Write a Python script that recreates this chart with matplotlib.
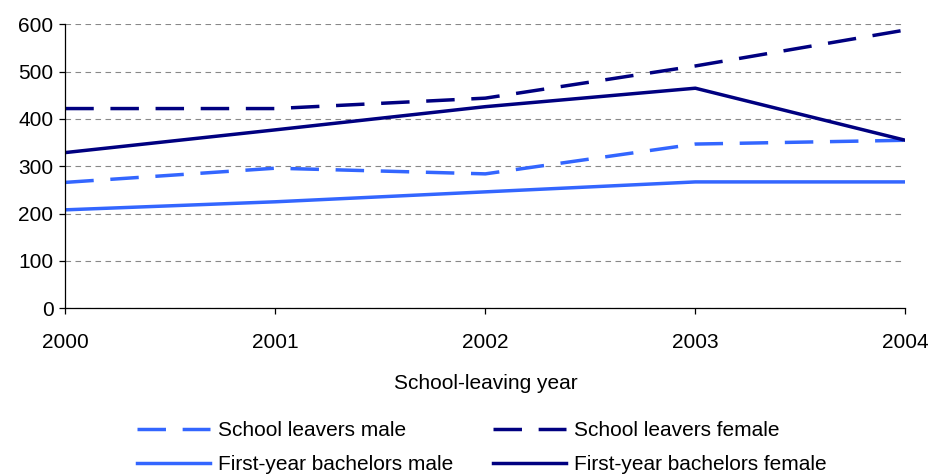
import matplotlib
matplotlib.use("Agg")
from matplotlib import pyplot as plt

plt.rcParams["font.family"] = ["Liberation Sans", "DejaVu Sans"]

years = [2000, 2001, 2002, 2003, 2004]
leavers_male = [266, 296, 284, 347, 355]
leavers_female = [422, 422, 444, 512, 588]
bachelors_male = [208, 225, 246, 267, 267]
bachelors_female = [329, 377, 426, 465, 355]

light = "#3366FF"
dark = "#000080"
fs = 15

fig = plt.figure(figsize=(9.3, 4.75), dpi=100)
ax = fig.add_axes((0.0702, 0.351, 0.9033, 0.5978))

lw = 2.5
dash = (8.2, 4.8)
h1, = ax.plot(years, leavers_male, color=light, lw=lw, dashes=dash, label="School leavers male")
h2, = ax.plot(years, leavers_female, color=dark, lw=lw, dashes=dash, label="School leavers female")
h3, = ax.plot(years, bachelors_male, color=light, lw=lw, label="First-year bachelors male")
h4, = ax.plot(years, bachelors_female, color=dark, lw=lw, label="First-year bachelors female")

ax.set_xlim(2000, 2004)
ax.set_ylim(0, 600)
ax.set_xticks(years)
ax.set_xticklabels([str(y) for y in years])
ax.set_yticks(range(0, 601, 100))
ax.yaxis.grid(True, color="#888888", linestyle=(0, (5, 4)), linewidth=0.8)
ax.set_axisbelow(True)
for s in ("top", "right"):
    ax.spines[s].set_visible(False)
for s in ("left", "bottom"):
    ax.spines[s].set_linewidth(0.9)
ax.tick_params(axis="both", labelsize=fs, length=4.5, width=0.9, direction="out")
ax.tick_params(axis="x", pad=13)
ax.tick_params(axis="y", pad=4)
ax.set_xlabel("School-leaving year", fontsize=fs, labelpad=16)

fig.legend([h1, h3, h2, h4],
           [h.get_label() for h in (h1, h3, h2, h4)],
           ncol=2, loc="upper left", bbox_to_anchor=(0.1473, 0.114),
           frameon=False, fontsize=fs, handlelength=3.5, handletextpad=0.4,
           columnspacing=1.9, labelspacing=0.75, borderpad=0, borderaxespad=0)

fig.savefig("out.png", dpi=100)
